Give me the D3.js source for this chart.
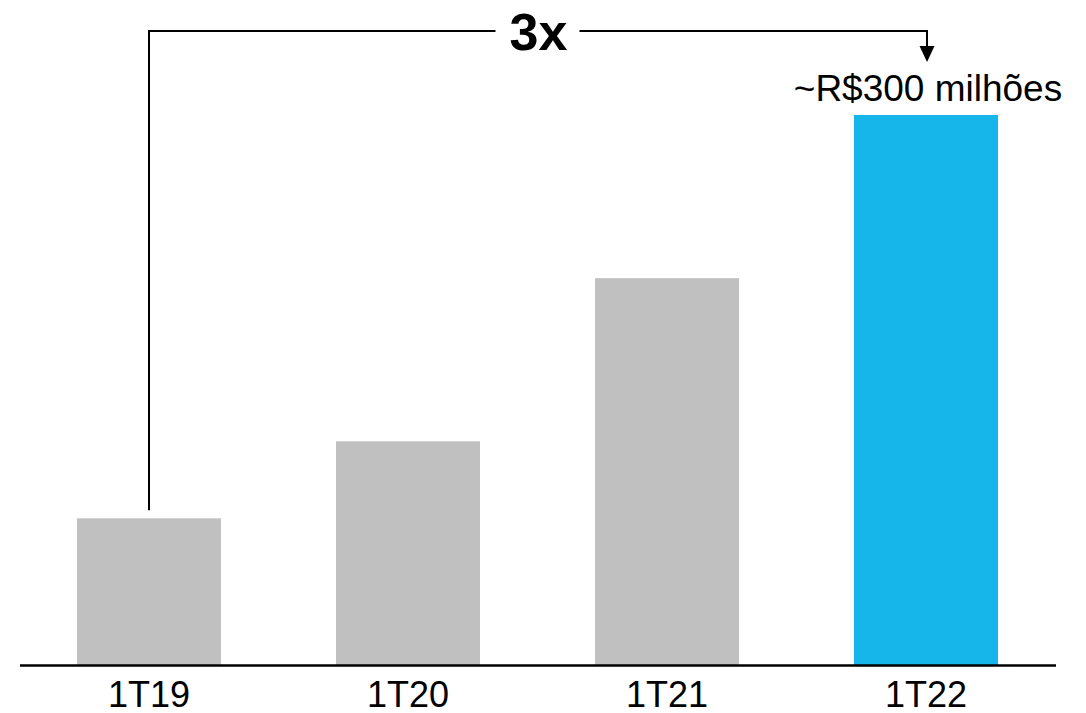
<!DOCTYPE html>
<html>
<head>
<meta charset="utf-8">
<script src="https://cdn.jsdelivr.net/npm/d3@7"></script>
<style>
  html, body { margin: 0; padding: 0; background: #fff; }
  svg { display: block; font-family: "Liberation Sans", Arial, sans-serif; }
</style>
</head>
<body>
<svg id="chart" width="1086" height="713"></svg>
<script>
const categories = ["1T19", "1T20", "1T21", "1T22"];
const values = [80, 122, 211, 300];
const barColors = ["#c0c0c0", "#c0c0c0", "#c0c0c0", "#16b5ea"];
const topLabel = "~R$300 milhões";
const growthLabel = "3x";

const svg = d3.select("#chart");

const x = d3.scaleBand()
  .domain(categories)
  .range([19.5, 1055.5])
  .paddingInner(0.444)
  .paddingOuter(0.222);

const y = d3.scaleLinear()
  .domain([0, 300])
  .range([665, 115]);

// Bars
svg.selectAll("rect.bar")
  .data(categories)
  .join("rect")
  .attr("class", "bar")
  .attr("x", d => x(d))
  .attr("width", x.bandwidth())
  .attr("y", (d, i) => y(values[i]))
  .attr("height", (d, i) => y(0) - y(values[i]))
  .attr("fill", (d, i) => barColors[i]);

// Axis
const axis = svg.append("g")
  .attr("transform", `translate(0,${y(0)})`)
  .call(d3.axisBottom(x).tickSize(0).tickPadding(0));
axis.select(".domain").attr("stroke", "#000").attr("stroke-width", 2.5);
axis.selectAll(".tick text")
  .attr("fill", "#000")
  .attr("font-size", 36)
  .attr("font-family", "'Liberation Sans', Arial, sans-serif")
  .attr("dy", null)
  .attr("y", 42);

// Top value label
const last = categories[categories.length - 1];
const cxLast = x(last) + x.bandwidth() / 2;
svg.append("text")
  .attr("x", cxLast + 2)
  .attr("y", 101)
  .attr("text-anchor", "middle")
  .attr("font-size", 37)
  .attr("fill", "#000")
  .text(topLabel);

// Growth bracket
const first = categories[0];
const cxFirst = x(first) + x.bandwidth() / 2;
const lineY = 31;
const midX = (cxFirst + cxLast) / 2;
const gap = 42;

svg.append("path")
  .attr("d", `M${cxFirst},${y(values[0]) - 8} V${lineY} H${midX - gap}`)
  .attr("fill", "none").attr("stroke", "#000").attr("stroke-width", 2);
svg.append("path")
  .attr("d", `M${midX + gap},${lineY} H${cxLast + 1} V${48}`)
  .attr("fill", "none").attr("stroke", "#000").attr("stroke-width", 2);
svg.append("path")
  .attr("d", `M${cxLast + 1 - 7.5},${46} L${cxLast + 1 + 7.5},${46} L${cxLast + 1},${62} Z`)
  .attr("fill", "#000");

svg.append("text")
  .attr("x", midX + 1)
  .attr("y", lineY + 19)
  .attr("text-anchor", "middle")
  .attr("font-size", 52)
  .attr("font-weight", "bold")
  .attr("fill", "#000")
  .text(growthLabel);
</script>
</body>
</html>
